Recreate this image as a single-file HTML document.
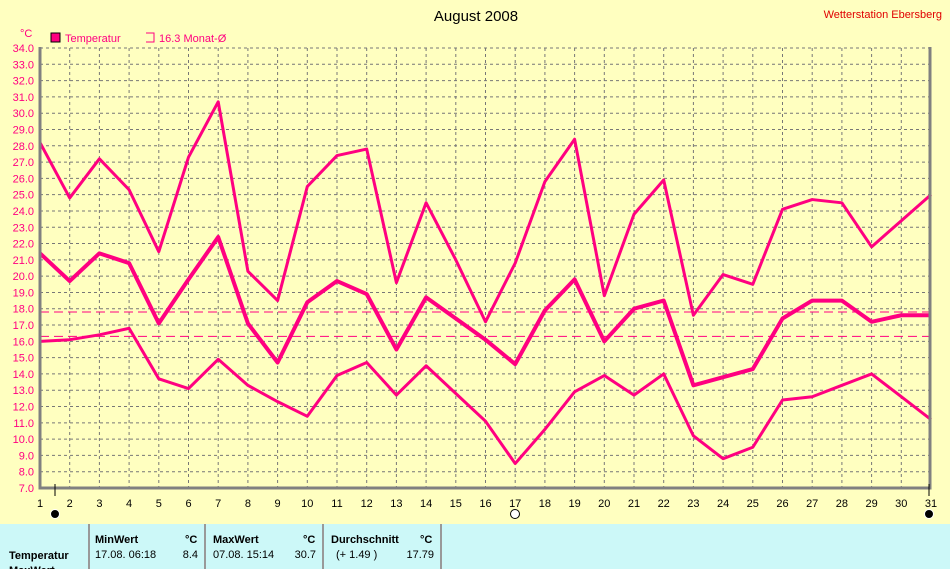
<!DOCTYPE html><html><head><meta charset="utf-8"><style>
body{margin:0;width:950px;height:569px;overflow:hidden;background:#ffffc0;font-family:"Liberation Sans",sans-serif}
</style></head><body>
<svg id="s" width="950" height="569" xmlns="http://www.w3.org/2000/svg" style="position:absolute;left:0;top:0">
<rect width="950" height="524" fill="#ffffc0"/>
<text x="476" y="21" font-size="15" text-anchor="middle" fill="#000">August 2008</text>
<text x="942" y="18" font-size="11" text-anchor="end" fill="#e00000">Wetterstation Ebersberg</text>
<text x="20" y="37" font-size="11" fill="#ff0080">°C</text>
<rect x="51" y="33" width="9" height="9" fill="#ff0080" stroke="#000" stroke-width="1"/>
<text x="65" y="42" font-size="11" fill="#ff0080">Temperatur</text>
<path d="M146 33h8v9h-8" fill="none" stroke="#ff0080"/>
<text x="159" y="42" font-size="11" fill="#ff0080">16.3 Monat-Ø</text>
<g id="g"></g>
<rect x="0" y="524" width="950" height="45" fill="#ccf8f8"/>
<g stroke="#999" stroke-width="2"><line x1="89" y1="524" x2="89" y2="569"/><line x1="205" y1="524" x2="205" y2="569"/><line x1="323" y1="524" x2="323" y2="569"/><line x1="441" y1="524" x2="441" y2="569"/></g>
<g font-size="11" font-weight="bold" fill="#000"><text x="95" y="543">MinWert</text><text x="185" y="543">°C</text><text x="213" y="543">MaxWert</text><text x="303" y="543">°C</text><text x="331" y="543">Durchschnitt</text><text x="420" y="543">°C</text><text x="9" y="559">Temperatur</text><text x="9" y="574">MaxWert</text></g>
<g font-size="11" fill="#000"><text x="95" y="558">17.08.  06:18</text><text x="198" y="558" text-anchor="end">8.4</text><text x="213" y="558">07.08.  15:14</text><text x="316" y="558" text-anchor="end">30.7</text><text x="336" y="558">(+ 1.49 )</text><text x="434" y="558" text-anchor="end">17.79</text></g>
</svg>
<script>
var g=document.getElementById('g'),h='';
function Y(v){return 488-(v-7)*16.296}function X(d){return 40+(d-1)*29.7}
for(var v=8;v<=34;v++)h+='<line x1="40" x2="930" y1="'+Y(v)+'" y2="'+Y(v)+'" stroke="#777" stroke-dasharray="3,3"/>';
for(var d=2;d<=30;d++)h+='<line y1="48" y2="488" x1="'+X(d)+'" x2="'+X(d)+'" stroke="#777" stroke-dasharray="3,3"/>';
for(var v=7;v<=34;v++)h+='<text x="34" y="'+(Y(v)+4)+'" font-size="11" text-anchor="end" fill="#ff0080">'+v+'.0</text>';
for(var d=1;d<=31;d++)h+='<text x="'+X(d)+'" y="507" font-size="11" text-anchor="middle" fill="#000">'+d+'</text>';
h+='<line x1="40" y1="312" x2="930" y2="312" stroke="#ff0080" stroke-dasharray="9,5"/><line x1="40" y1="336.4" x2="930" y2="336.4" stroke="#ff0080" stroke-dasharray="9,5"/>';
var mx=[28.2,24.8,27.2,25.3,21.5,27.3,30.7,20.3,18.5,25.5,27.4,27.8,19.6,24.5,21,17.2,20.8,25.8,28.4,18.8,23.8,25.9,17.6,20.1,19.5,24.1,24.7,24.5,21.8,23.4,25.0];
var mn=[21.4,19.7,21.4,20.8,17.1,19.8,22.4,17.1,14.7,18.4,19.7,18.9,15.5,18.7,17.4,16.1,14.6,17.9,19.8,16.0,18.0,18.5,13.3,13.8,14.3,17.4,18.5,18.5,17.2,17.6,17.6];
var mi=[16.0,16.1,16.4,16.8,13.7,13.1,14.9,13.3,12.3,11.4,13.9,14.7,12.7,14.5,12.8,11.1,8.5,10.6,12.9,13.9,12.7,14.0,10.2,8.8,9.5,12.4,12.6,13.3,14.0,12.6,11.2];
function P(a,w){return '<polyline fill="none" stroke="#ff0080" stroke-width="'+w+'" stroke-linejoin="round" points="'+a.map(function(v,i){return X(i+1)+','+Y(v)}).join(' ')+'"/>'}
h+=P(mx,3)+P(mi,3)+P(mn,4);
h+='<polyline fill="none" stroke="#808080" stroke-width="3" points="40,47 40,488 930,488 930,47"/>';
h+='<line x1="55" y1="484" x2="55" y2="496" stroke="#000"/><line x1="929" y1="484" x2="929" y2="496" stroke="#000"/>';
h+='<circle cx="55" cy="514" r="4.5" fill="#000" stroke="#fff"/><circle cx="929" cy="514" r="4.5" fill="#000" stroke="#fff"/><circle cx="515" cy="514" r="4.5" fill="#fff" stroke="#000"/>';
g.innerHTML=h;
</script>
</body></html>
